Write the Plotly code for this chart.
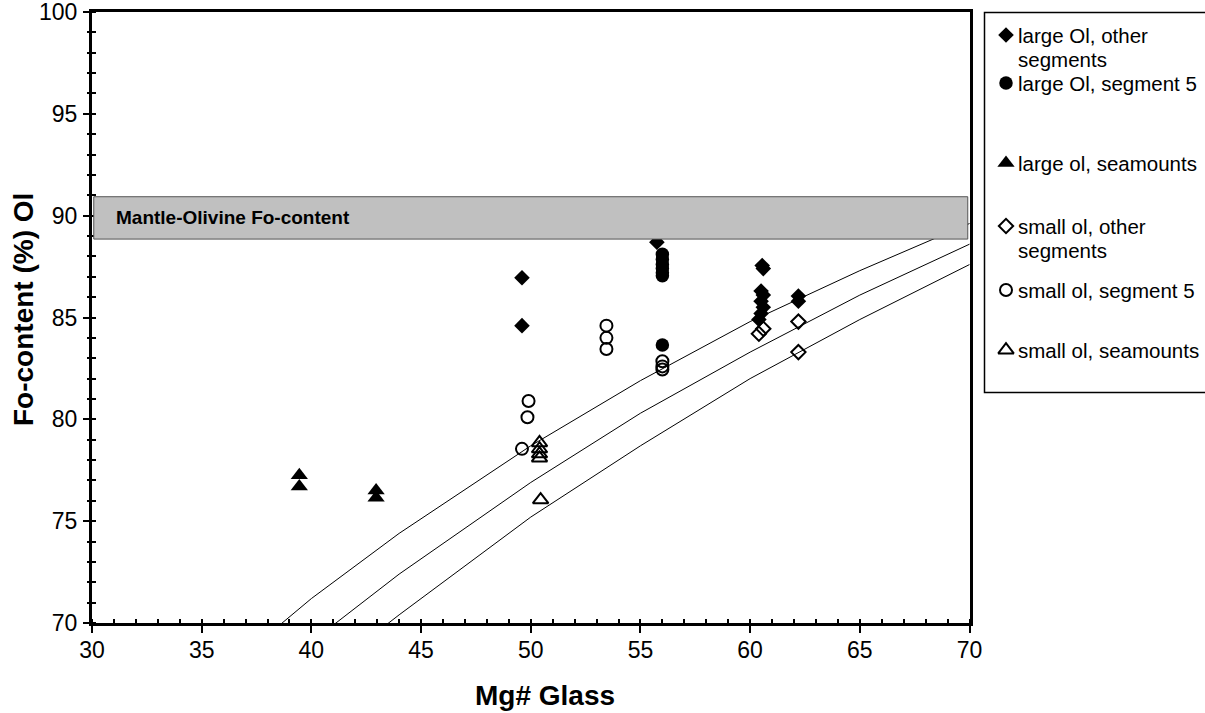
import plotly.graph_objects as go

# ---------------- data ----------------
# large olivine, other segments (filled diamonds)
mg_large_other = [49.6, 49.6, 55.75, 60.55, 60.6, 60.5, 60.6, 60.5, 60.6, 60.5, 60.4, 62.2, 62.2]
fo_large_other = [86.95, 84.6, 88.7, 87.55, 87.4, 86.3, 86.1, 85.8, 85.5, 85.2, 84.9, 86.05, 85.8]

# large olivine, segment 5 (filled circles)
mg_large_seg5 = [56.0, 56.0, 56.0, 56.0, 56.0, 56.0, 56.0]
fo_large_seg5 = [88.1, 87.85, 87.6, 87.4, 87.2, 87.05, 83.65]

# large olivine, seamounts (filled triangles)
mg_large_sea = [39.45, 39.45, 42.95, 42.95]
fo_large_sea = [77.25, 76.7, 76.5, 76.15]

# small olivine, other segments (open diamonds)
mg_small_other = [60.4, 60.6, 62.2, 62.2]
fo_small_other = [84.2, 84.45, 84.8, 83.3]

# small olivine, segment 5 (open circles)
mg_small_seg5 = [49.9, 49.85, 49.6, 53.45, 53.45, 53.45, 56.0, 56.0, 56.0]
fo_small_seg5 = [80.9, 80.1, 78.55, 84.6, 84.0, 83.45, 82.85, 82.6, 82.45]

# small olivine, seamounts (open triangles)
mg_small_sea = [50.4, 50.4, 50.4, 50.4, 50.45]
fo_small_sea = [78.85, 78.55, 78.3, 78.1, 76.05]

# equilibrium curves
curve_a_mg = [38.0, 40.0, 44.0, 50.0, 55.0, 60.0, 65.0, 70.0, 70.4]
curve_a_fo = [69.4, 71.2, 74.4, 78.7, 81.9, 84.8, 87.3, 89.6, 89.8]
curve_b_mg = [40.5, 41.0, 44.0, 50.0, 55.0, 60.0, 65.0, 70.0, 70.4]
curve_b_fo = [69.4, 69.9, 72.4, 76.9, 80.3, 83.3, 86.1, 88.6, 88.8]
curve_c_mg = [42.8, 44.0, 50.0, 55.0, 60.0, 65.0, 70.0, 70.4]
curve_c_fo = [69.4, 70.4, 75.2, 78.7, 82.0, 84.9, 87.6, 87.9]

# mantle olivine band
band_fo = [88.85, 90.93]
band_label = "Mantle-Olivine Fo-content"

series_names = [
    ["large Ol, other", "segments"],
    ["large Ol, segment 5"],
    ["large ol, seamounts"],
    ["small ol, other", "segments"],
    ["small ol, segment 5"],
    ["small ol, seamounts"],
]

x_ticks = [30, 35, 40, 45, 50, 55, 60, 65, 70]
y_ticks = [70, 75, 80, 85, 90, 95, 100]

# ---------------- layout geometry ----------------
W, H = 1205, 713
ML, MR, MT, MB = 92, 0, 12, 90
PW = W - ML - MR
PH = H - MT - MB
FONT = "Arial, Liberation Sans, sans-serif"


def px_x(p):
    return (p - ML) / PW


def px_y(p):
    return (H - MB - p) / PH


main_right = px_x(969.5)

styles = [
    dict(symbol="diamond", size=12, color="black", line=dict(width=0)),
    dict(symbol="circle", size=13.5, color="black", line=dict(width=0)),
    dict(symbol="triangle-up", size=15, color="black", line=dict(width=0)),
    dict(symbol="diamond-open", size=11, color="black", line=dict(width=2, color="black")),
    dict(symbol="circle-open", size=12, color="black", line=dict(width=2, color="black")),
    dict(symbol="triangle-up-open", size=13.5, color="black", line=dict(width=2, color="black")),
]
data_sets = [
    (mg_large_other, fo_large_other),
    (mg_large_seg5, fo_large_seg5),
    (mg_large_sea, fo_large_sea),
    (mg_small_other, fo_small_other),
    (mg_small_seg5, fo_small_seg5),
    (mg_small_sea, fo_small_sea),
]

fig = go.Figure()

for cx, cy in [(curve_a_mg, curve_a_fo), (curve_b_mg, curve_b_fo), (curve_c_mg, curve_c_fo)]:
    fig.add_trace(go.Scatter(x=cx, y=cy, mode="lines", line=dict(color="black", width=1),
                             showlegend=False, hoverinfo="skip"))

for (xs, ys), st, nm in zip(data_sets, styles, series_names):
    fig.add_trace(go.Scatter(x=xs, y=ys, mode="markers", marker=st, name=" ".join(nm),
                             showlegend=False))

# invisible trace to carry the overlay axis for crossing minor ticks
fig.add_trace(go.Scatter(x=[30], y=[70], yaxis="y3", mode="markers",
                         marker=dict(opacity=0), showlegend=False, hoverinfo="skip"))

# ---------------- hand-built legend ----------------
leg_marker_x = 1006
leg_text_x = 1016
leg_rows = [35, 83, 163, 226, 290, 350]
line_step = 24
for st, row in zip(styles, leg_rows):
    fig.add_trace(go.Scatter(x=[leg_marker_x], y=[row], xaxis="x2", yaxis="y2", mode="markers",
                             marker=st, showlegend=False, hoverinfo="skip"))

annotations = []
for nm, row in zip(series_names, leg_rows):
    for i, line in enumerate(nm):
        annotations.append(dict(x=leg_text_x, y=row + i * line_step, xref="x2", yref="y2",
                                text=line, showarrow=False, xanchor="left", yanchor="middle",
                                font=dict(family=FONT, size=20.5, color="black")))

annotations.append(dict(x=31.0, y=(band_fo[0] + band_fo[1]) / 2, xref="x", yref="y",
                        text="<b>%s</b>" % band_label, showarrow=False, xanchor="left",
                        yanchor="middle", font=dict(family=FONT, size=19, color="black")))
annotations.append(dict(x=px_x(545), y=px_y(695), xref="paper", yref="paper",
                        text="<b>Mg# Glass</b>", showarrow=False, xanchor="center",
                        yanchor="middle", font=dict(family=FONT, size=28, color="black")))
annotations.append(dict(x=px_x(23), y=px_y(310), xref="paper", yref="paper",
                        text="<b>Fo-content (%) Ol</b>", showarrow=False, textangle=-90,
                        xanchor="center", yanchor="middle",
                        font=dict(family=FONT, size=28, color="black")))

shapes = [
    dict(type="rect", xref="x", yref="y", x0=30.08, x1=69.92, y0=band_fo[0], y1=band_fo[1],
         fillcolor="#C0C0C0", line=dict(color="#555555", width=1), layer="above"),
    dict(type="rect", xref="paper", yref="paper", x0=px_x(984.5), x1=px_x(1215),
         y0=px_y(392.5), y1=px_y(12.5), line=dict(color="black", width=1.5),
         fillcolor="rgba(0,0,0,0)", layer="above"),
]

axis_common = dict(showgrid=False, zeroline=False, color="black", automargin=False,
                   tickfont=dict(family=FONT, size=23, color="black"))

fig.update_layout(
    template="none",
    width=W, height=H, autosize=False,
    margin=dict(l=ML, r=MR, t=MT, b=MB, pad=0, autoexpand=False),
    paper_bgcolor="white", plot_bgcolor="white",
    showlegend=False,
    font=dict(family=FONT, color="black"),
    xaxis=dict(domain=[0, main_right], range=[30, 70], tickvals=x_ticks,
               ticks="outside", ticklen=7, tickwidth=2, tickcolor="black",
               minor=dict(ticks="inside", dtick=1, ticklen=4, tickwidth=1.5, tickcolor="black"),
               showline=True, linewidth=3, linecolor="black", mirror=True,
               ticklabelstandoff=-3, ticklabeloverflow="allow", **axis_common),
    yaxis=dict(range=[70, 100], tickvals=y_ticks,
               ticks="outside", ticklen=6, tickwidth=2, tickcolor="black",
               minor=dict(ticks="inside", dtick=1, ticklen=4, tickwidth=1.5, tickcolor="black"),
               showline=True, linewidth=3, linecolor="black", mirror=True,
               ticklabelstandoff=1, ticklabeloverflow="allow", **axis_common),
    yaxis3=dict(overlaying="y", anchor="x", side="left", range=[70, 100], showgrid=False,
                zeroline=False, showline=False, showticklabels=False, automargin=False,
                ticks="outside", dtick=1, ticklen=4, tickwidth=1.5, tickcolor="black"),
    xaxis2=dict(domain=[px_x(984), 1], range=[984, W], visible=False, anchor="y2",
                automargin=False),
    yaxis2=dict(domain=[0, 1], range=[H - MB, MT], visible=False, anchor="x2",
                automargin=False),
    annotations=annotations,
    shapes=shapes,
)

post = ("document.documentElement.style.overflow='hidden';"
        "document.body.style.margin='0';document.body.style.overflow='hidden';")

fig.write_html("out.html", post_script=post,
               config={"displayModeBar": False, "responsive": False})
